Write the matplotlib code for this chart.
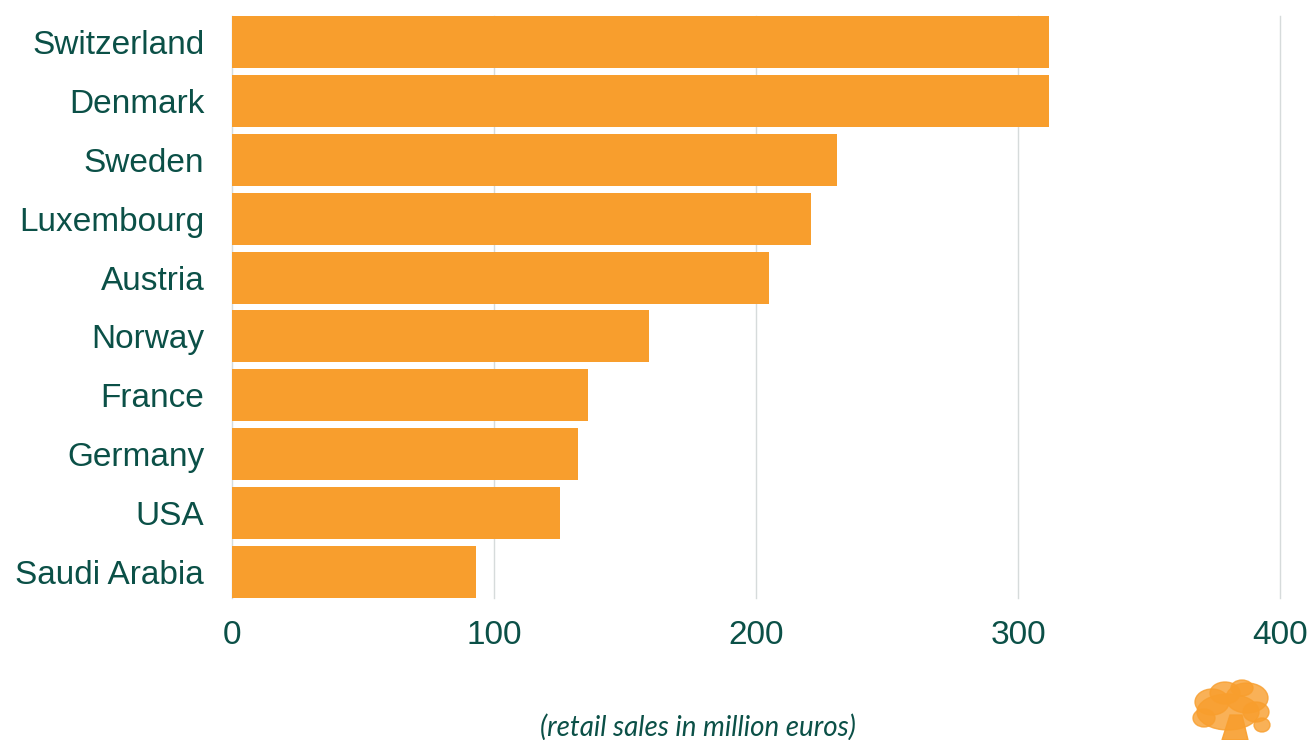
import matplotlib
matplotlib.use("Agg")
import matplotlib.pyplot as plt
from matplotlib.patches import Ellipse, Polygon

countries = ["Switzerland", "Denmark", "Sweden", "Luxembourg", "Austria",
             "Norway", "France", "Germany", "USA", "Saudi Arabia"]
sales = [312, 312, 231, 221, 205, 159, 136, 132, 125, 93]
xticks = [0, 100, 200, 300, 400]

TEXT = "#0b5047"
BAR = "#f89e2d"
H = 0.883

fig = plt.figure(figsize=(13.09, 7.40), dpi=100)
ax = fig.add_axes([232/1309, 1 - 598/740, (1280-232)/1309, (598-16)/740])

y = list(range(len(countries)))
ax.barh(y, sales, height=H, color=BAR, zorder=2)
ax.set_ylim(len(countries) - 1 + H/2, -H/2)
ax.set_xlim(0, 400)
ax.set_yticks(y)
ax.set_yticklabels(countries)
ax.set_xticks(xticks)
ax.set_xticklabels([str(t) for t in xticks])
ax.tick_params(axis="both", length=0, labelsize=24, labelcolor=TEXT,
               labelfontfamily="Liberation Sans")
ax.tick_params(axis="y", pad=20)
ax.tick_params(axis="x", pad=16)
for s in ax.spines.values():
    s.set_visible(False)
for t in xticks:
    ax.axvline(t, color="#d6dbdb", linewidth=1, zorder=1, clip_on=False)

fig.text(698/1309, 1 - 727/740, "(retail sales in million euros)", ha="center",
         va="center", fontsize=20, style="italic", family="Lato", color=TEXT)

# decorative tree logo (bottom right, cut off)
tree = "#f89e2d"
blobs = [(1228, 712, 62, 36), (1212, 702, 34, 26), (1247, 698, 42, 30),
         (1225, 693, 30, 22), (1256, 712, 26, 20), (1204, 718, 22, 18),
         (1242, 688, 22, 16), (1262, 725, 16, 14)]
for cx, cy, w, h in blobs:
    fig.patches.append(Ellipse((cx/1309, 1 - cy/740), w/1309, h/740,
                               transform=fig.transFigure, color=tree, alpha=0.8))
trunk = [(1222, 740), (1248, 740), (1242, 715), (1230, 715)]
fig.patches.append(Polygon([(px/1309, 1 - py/740) for px, py in trunk],
                           closed=True, transform=fig.transFigure,
                           color=tree, alpha=0.9))

fig.savefig("out.png", dpi=100)
